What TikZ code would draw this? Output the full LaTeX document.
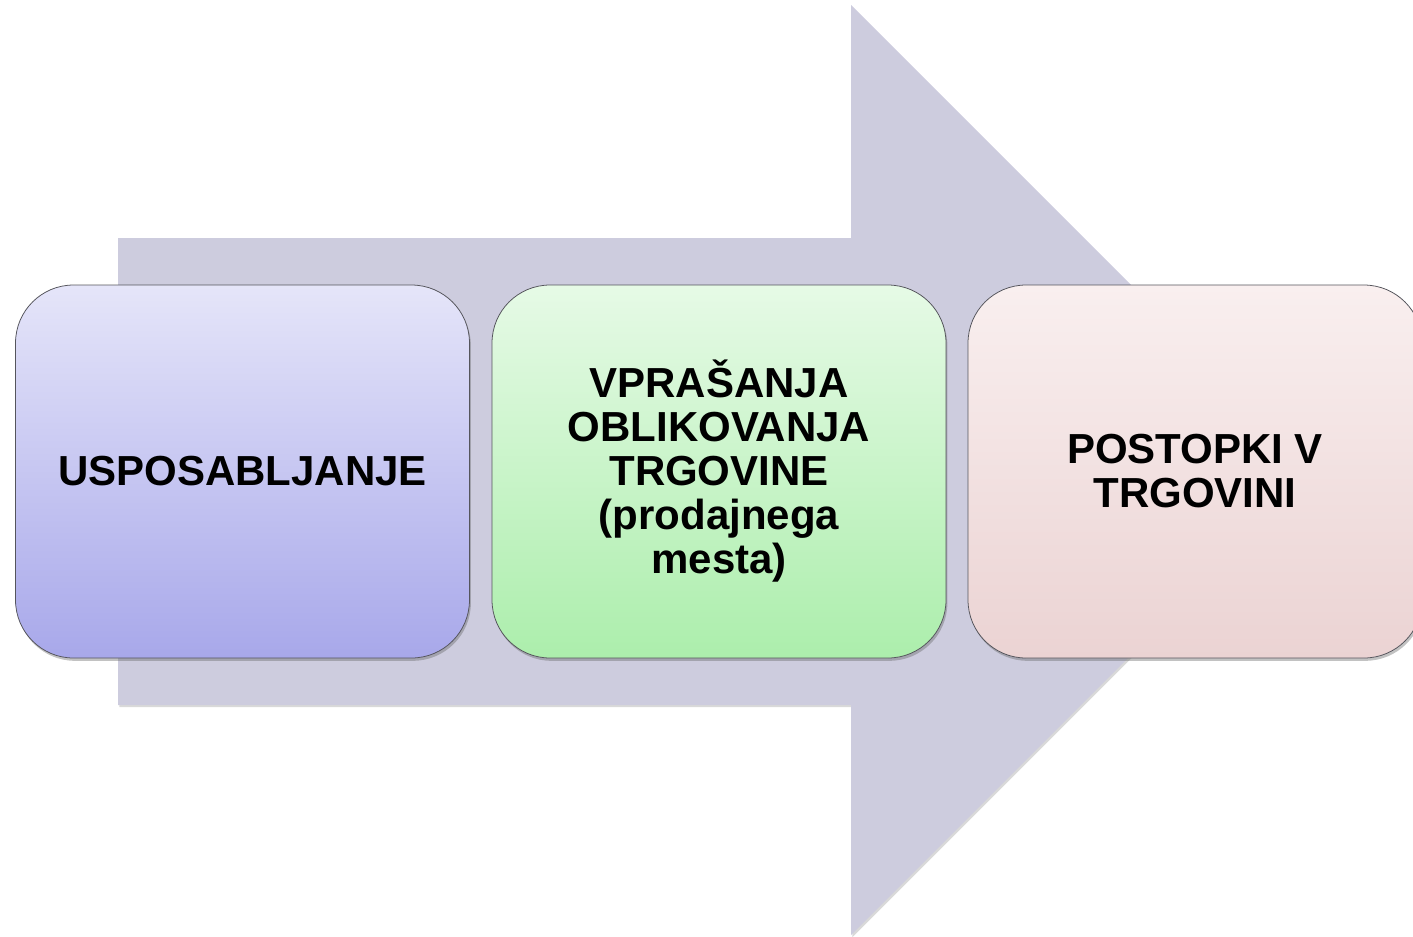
\documentclass[tikz,border=0pt]{standalone}
\usepackage{fontspec}
\setmainfont{Liberation Sans}
\usetikzlibrary{shadows}
\definecolor{arrowfill}{HTML}{CDCCDE}
\definecolor{edgegray}{HTML}{55555C}
\definecolor{blueTop}{HTML}{E5E5F9}
\definecolor{blueBot}{HTML}{A8A8EA}
\definecolor{greenTop}{HTML}{E6FAE6}
\definecolor{greenBot}{HTML}{ACEEAC}
\definecolor{pinkTop}{HTML}{F9EFEF}
\definecolor{pinkBot}{HTML}{EBD3D3}
\tikzset{
  stagebox/.style={draw=edgegray, line width=1.1pt, rounded corners=2.9cm,
    minimum width=22.7cm, minimum height=18.65cm, align=center,
    font=\fontsize{59.75pt}{62.6pt}\selectfont\bfseries,
    drop shadow={shadow xshift=2pt, shadow yshift=-4pt, opacity=0.4, fill=black!60}},
  bigarrow/.style={fill=arrowfill, draw=none,
    drop shadow={shadow xshift=2pt, shadow yshift=-3pt, opacity=0.3, fill=black!50}}
}
\begin{document}
\begin{tikzpicture}[x=0.05cm, y=-0.05cm]
\useasboundingbox (0,0) rectangle (1413,936);
\begin{scope}
\clip (0,0) rectangle (1413,936);
% process arrow behind the stages
\path[bigarrow] (118,238) -- (851,238) -- (851,5) -- (1316,470) -- (851,935)
  -- (851,705) -- (118,705) -- cycle;
% the three stages
\node[stagebox, top color=blueTop, bottom color=blueBot] (s1) at (242.5,471.5)
  {USPOSABLJANJE};
\node[stagebox, top color=greenTop, bottom color=greenBot] (s2) at (719,471.5)
  {VPRAŠANJA\\OBLIKOVANJA\\TRGOVINE\\(prodajnega\\mesta)};
\node[stagebox, top color=pinkTop, bottom color=pinkBot] (s3) at (1195,471.5)
  {POSTOPKI V\\TRGOVINI};
\end{scope}
\end{tikzpicture}
\end{document}
